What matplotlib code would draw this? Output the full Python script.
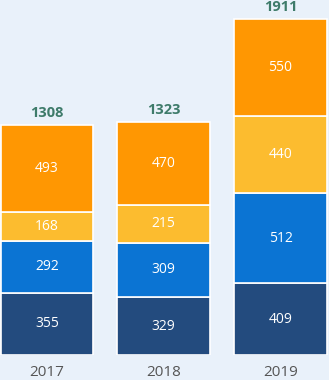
#!/usr/bin/env python3
"""Stacked bar chart, 2017-2019, with totals on top."""

import numpy as np
import matplotlib.pyplot as plt

# -------------------------------------------------
# Data
# -------------------------------------------------
years = ["2017", "2018", "2019"]
seg_bottom = [355, 329, 409]
seg_blue = [292, 309, 512]
seg_yellow = [168, 215, 440]
seg_orange = [493, 470, 550]
totals = [1308, 1323, 1911]

colors = ["#234B7E", "#0B74D3", "#FCBC2F", "#FF9702"]
bg = "#E9F1FA"


def main():
    plt.rcParams["font.family"] = ["Open Sans", "DejaVu Sans"]

    fig = plt.figure(figsize=(3.29, 3.80), dpi=100, facecolor=bg)
    ax = fig.add_axes([0, 25 / 380, 1, 355 / 380])
    ax.set_facecolor(bg)

    x = np.arange(len(years))
    segments = [seg_bottom, seg_blue, seg_yellow, seg_orange]
    bottom = np.zeros(len(years))
    for vals, col in zip(segments, colors):
        vals = np.array(vals, dtype=float)
        ax.bar(x, vals, bottom=bottom, width=0.795, color=col,
               edgecolor="white", linewidth=1.2)
        for xi, b, v in zip(x, bottom, vals):
            ax.text(xi, b + v / 2, f"{int(v)}", ha="center", va="center",
                    color="white", fontsize=10)
        bottom += vals

    for xi, t in zip(x, totals):
        ax.text(xi, t + 28, f"{t}", ha="center", va="bottom",
                color="#3E7B6A", fontsize=10.5, fontweight="bold")

    ax.set_xlim(-0.402, 2.415)
    ax.set_ylim(0, 2019)
    for s in ax.spines.values():
        s.set_visible(False)
    ax.set_yticks([])
    ax.set_xticks(x)
    ax.set_xticklabels(years, color="#555555", fontsize=11)
    ax.tick_params(axis="x", length=0, pad=7)

    fig.savefig("out.png", dpi=100, facecolor=bg)
    plt.close(fig)


if __name__ == "__main__":
    main()
